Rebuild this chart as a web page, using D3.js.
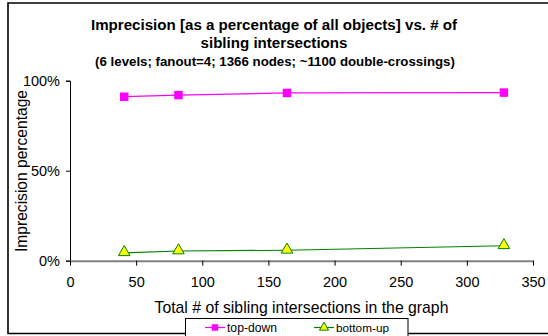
<!DOCTYPE html>
<html>
<head>
<meta charset="utf-8">
<script src="https://cdn.jsdelivr.net/npm/d3@7"></script>
<style>
  body { margin: 0; background: #fff; }
  svg { display: block; font-family: "Liberation Sans", Arial, sans-serif; }
</style>
</head>
<body>
<svg id="chart" width="548" height="336"></svg>
<script>
// data
const xValues = [41, 82, 164, 328];
const topDown = [91.1, 92.0, 93.2, 93.4];
const bottomUp = [4.4, 5.4, 5.8, 8.3];
const xTicks = [0, 50, 100, 150, 200, 250, 300, 350];
const yTicks = [0, 50, 100];
const seriesNames = ["top-down", "bottom-up"];

const svg = d3.select("#chart");

const x = d3.scaleLinear().domain([0, 350]).range([70, 533]);
const y = d3.scaleLinear().domain([0, 100]).range([260.7, 80.7]);

// shrink/grow a text's font so it spans the given width
function fitWidth(sel, w) {
    const fs = +sel.attr("font-size");
    const len = sel.node().getComputedTextLength();
    sel.attr("font-size", (fs * w / len).toFixed(2));
}

// outer frame (right edge runs off the picture)
svg.append("path")
    .attr("d", "M560,3 H8 V333.5 H560")
    .attr("fill", "none")
    .attr("stroke", "#000")
    .attr("stroke-width", 1.6);

// titles, centred on the whole chart area
const title = svg.append("g").attr("font-weight", "bold").attr("text-anchor", "middle");
const t1 = title.append("text").attr("x", 274).attr("y", 30).attr("font-size", 15)
    .text("Imprecision [as a percentage of all objects] vs. # of")
    .call(fitWidth, 366);
title.append("text").attr("x", 274).attr("y", 48).attr("font-size", t1.attr("font-size"))
    .text("sibling intersections");
title.append("text").attr("x", 275).attr("y", 65.5).attr("font-size", 12)
    .text("(6 levels; fanout=4; 1366 nodes; ~1100 double-crossings)")
    .call(fitWidth, 360);

// y axis
const yAxis = svg.append("g")
    .attr("transform", "translate(70,0)")
    .call(d3.axisLeft(y).tickValues(yTicks).tickFormat(d => d + "%").tickSize(4).tickPadding(6));
yAxis.select(".domain").attr("stroke", "#000");
yAxis.selectAll("text").attr("font-size", 14.5).attr("fill", "#000");

// x axis
const xAxis = svg.append("g")
    .attr("transform", "translate(0," + y(0) + ")")
    .call(d3.axisBottom(x).tickValues(xTicks).tickSize(5).tickPadding(11).tickSizeOuter(0));
xAxis.select(".domain").attr("stroke", "#808080").attr("stroke-width", 2);
xAxis.selectAll("line").attr("stroke", "#000");
xAxis.selectAll("text").attr("font-size", 14.5).attr("fill", "#000");

// axis titles
svg.append("text")
    .attr("transform", "translate(26.5,171) rotate(-90)")
    .attr("text-anchor", "middle")
    .attr("font-size", 15)
    .text("Imprecision percentage")
    .call(fitWidth, 162);

svg.append("text")
    .attr("x", 301.5).attr("y", 312.5)
    .attr("text-anchor", "middle")
    .attr("font-size", 15.5)
    .text("Total # of sibling intersections in the graph")
    .call(fitWidth, 294);

// series
const line = d3.line().x(d => x(d[0])).y(d => y(d[1]));
const tdPts = xValues.map((v, i) => [v, topDown[i]]);
const buPts = xValues.map((v, i) => [v, bottomUp[i]]);

const square = d3.symbol().type(d3.symbolSquare).size(72);
const triangle = d3.symbol().type(d3.symbolTriangle).size(58);
const squareSmall = d3.symbol().type(d3.symbolSquare).size(42);
const triangleSmall = d3.symbol().type(d3.symbolTriangle).size(36);

svg.append("path").attr("d", line(tdPts))
    .attr("fill", "none").attr("stroke", "#ff00ff").attr("stroke-width", 1.2);
svg.append("path").attr("d", line(buPts))
    .attr("fill", "none").attr("stroke", "#008000").attr("stroke-width", 1.2);

svg.append("g").selectAll("path")
    .data(tdPts)
    .join("path")
    .attr("transform", d => "translate(" + x(d[0]) + "," + y(d[1]) + ")")
    .attr("d", square)
    .attr("fill", "#ff00ff");

svg.append("g").selectAll("path")
    .data(buPts)
    .join("path")
    .attr("transform", d => "translate(" + x(d[0]) + "," + (y(d[1]) - 0.5) + ")")
    .attr("d", triangle)
    .attr("fill", "#ffff00")
    .attr("stroke", "#008000")
    .attr("stroke-width", 1);

// legend
const legend = svg.append("g");
legend.append("rect")
    .attr("x", 185.5).attr("y", 318.5).attr("width", 222.5).attr("height", 20)
    .attr("fill", "#fff").attr("stroke", "#000").attr("stroke-width", 1);

const legendItems = [
    { name: seriesNames[0], x: 205, color: "#ff00ff", sym: squareSmall, fill: "#ff00ff", w: 50 },
    { name: seriesNames[1], x: 314, color: "#008000", sym: triangleSmall, fill: "#ffff00", w: 53 }
];

legendItems.forEach(function(d) {
    legend.append("line")
        .attr("x1", d.x).attr("x2", d.x + 20)
        .attr("y1", 327.5).attr("y2", 327.5)
        .attr("stroke", d.color).attr("stroke-width", 1.2);
    legend.append("path")
        .attr("transform", "translate(" + (d.x + 10) + ",327.5)")
        .attr("d", d.sym)
        .attr("fill", d.fill)
        .attr("stroke", d.fill === d.color ? "none" : d.color);
    legend.append("text")
        .attr("x", d.x + 22).attr("y", 331.5)
        .attr("font-size", 11.5)
        .text(d.name)
        .call(fitWidth, d.w);
});
</script>
</body>
</html>
